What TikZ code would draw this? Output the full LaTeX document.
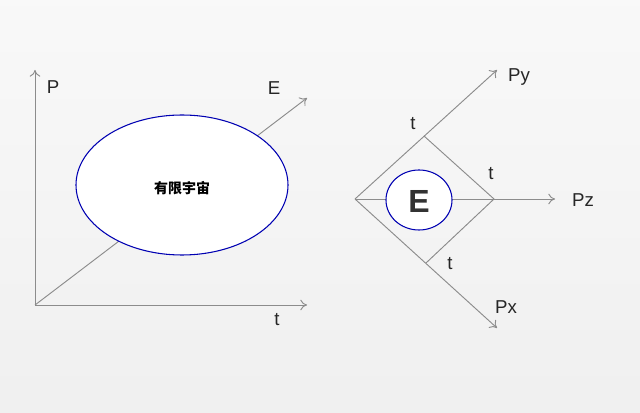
\documentclass[tikz,border=0pt]{standalone}
\usepackage{fontspec}
\usetikzlibrary{arrows.meta}
\setmainfont{Liberation Sans}
\newfontfamily\cjk{Noto Sans CJK SC}
\begin{document}
\begin{tikzpicture}[x=0.75pt,y=-0.75pt,
  ax/.style={draw=gray!90,line width=0.7pt,-{To[length=5pt,width=8pt]}},
  ln/.style={draw=gray!90,line width=0.7pt},
  lbl/.style={font=\fontsize{14}{16}\selectfont,text=black!85},
  blob/.style={draw=blue!70!black,fill=white,line width=0.8pt}]
\shade[top color=white!95!gray,bottom color=white!88!gray] (0,0) rectangle (640,413);
\useasboundingbox (0,0) rectangle (640,413);
% left
\coordinate (o) at (35,305);
\coordinate (pe) at (35,70);
\coordinate (te) at (307,305);
\coordinate (ee) at (307,98);
\draw[ax] (o) -- (pe);
\draw[ax] (o) -- (te);
\draw[ax] (o) -- (ee);
\draw[blob] (182,185) ellipse [x radius=106,y radius=70];
\node[font=\cjk\bfseries\fontsize{10.5}{12}\selectfont] (ut) at (182,188) {有限宇宙};
\node[lbl] (lp) at (53,87) {P};
\node[lbl] (le) at (274,88) {E};
\node[lbl] (lt) at (277,320) {t};
% right
\coordinate (o2) at (355,199);
\coordinate (py) at (497,70);
\coordinate (pz) at (555,199);
\coordinate (px) at (497,328);
\coordinate (dt) at (424,136);
\coordinate (dr) at (494,199);
\coordinate (db) at (426,263);
\draw[ax] (o2) -- (py);
\draw[ax] (o2) -- (pz);
\draw[ax] (o2) -- (px);
\draw[ln] (dt) -- (dr) -- (db);
\draw[blob] (419,200) ellipse [x radius=33,y radius=30];
\node[font=\bfseries\fontsize{24}{28}\selectfont,text=black!80] (ce) at (419,201) {E};
\node[lbl] (t1) at (413,124) {t};
\node[lbl] (t2) at (491,174) {t};
\node[lbl] (t3) at (450,264) {t};
\node[lbl] (ly) at (519,77) {Py};
\node[lbl] (lz) at (583,200) {Pz};
\node[lbl] (lx) at (506,307) {Px};
\end{tikzpicture}
\end{document}
